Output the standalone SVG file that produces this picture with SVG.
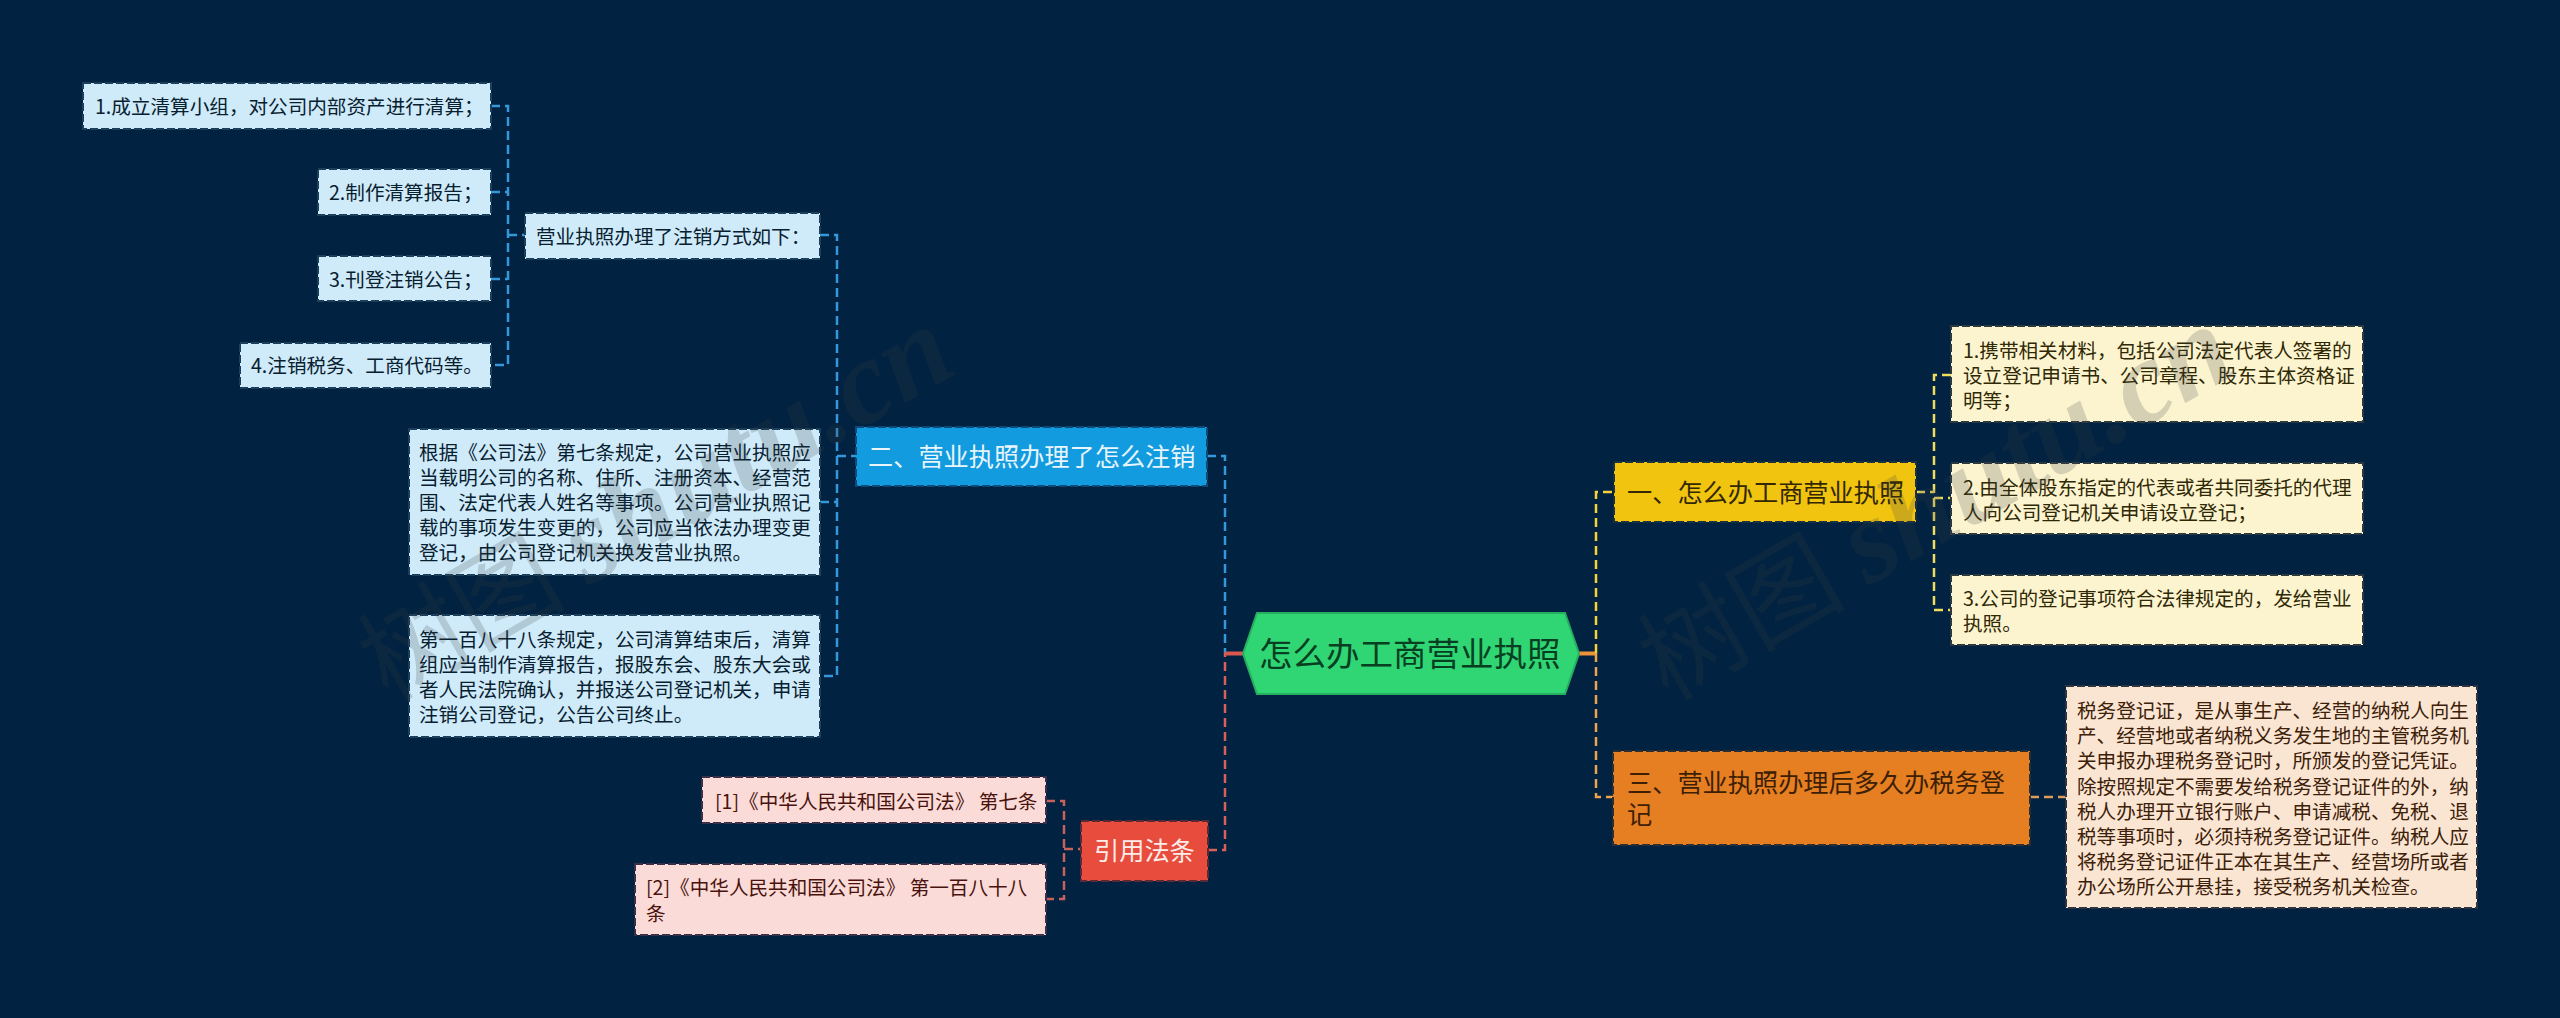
<svg xmlns="http://www.w3.org/2000/svg" width="2560" height="1018" viewBox="0 0 2560 1018">
<style>
text{font-family:"Noto Sans CJK SC","Noto Sans",sans-serif;white-space:pre}
.s{font-size:19.6px}.m{font-size:25.2px}.h{font-size:33.500px;fill:#083f22}
.box{stroke-width:2;stroke-dasharray:8 3}
.lb rect{fill:#cfeaf9;stroke:#1c3f5c}.lb text{fill:#07202f}
.ly rect{fill:#fcf3cf;stroke:#2c3a40}.ly text{fill:#2f2804}
.lr rect{fill:#fadbd8;stroke:#3c2f48}.lr text{fill:#4a120c}
.lo rect{fill:#fae5d3;stroke:#2f3440}.lo text{fill:#3c2008}
.c{fill:none;stroke-width:2.500;stroke-dasharray:9 5}
.solid{fill:none;stroke-width:4}
.wm{fill:#3a4048;fill-opacity:.2}
</style>
<rect width="2560" height="1018" fill="#012240"/>
<g id="connectors">
<path class="c" stroke="#3498db" d="M491 106H508V365H491M491 192H508M491 279H508M508 235H525"/>
<path class="c" stroke="#3498db" d="M820 235H837V676H820M820 502H837M837 456H856"/>
<path class="c" stroke="#3498db" d="M1207 456H1225V653"/>
<path class="c" stroke="#d9605a" d="M1208 850H1225V653"/>
<path class="solid" stroke="#d9584f" d="M1225 653.500H1243"/>
<path class="c" stroke="#c8605c" d="M1046 801H1064V899H1046M1064 849H1081"/>
<path class="solid" stroke="#ee9338" d="M1579 653.500H1596"/>
<path class="c" stroke="#f4d43a" d="M1596 653V492H1614"/>
<path class="c" stroke="#eda44e" d="M1596 653V797H1613"/>
<path class="c" stroke="#f0dc60" d="M1916 492H1934M1951 375H1934V610H1951M1934 498H1951"/>
<path class="c" stroke="#dc9c5c" d="M2030 797H2066"/>
</g>
<g id="root"><path d="M1243 653.500L1257 613H1565L1579 653.500L1565 694H1257Z" fill="#2fd673" stroke="#27ae60" stroke-width="2"/><text class="h" x="1259" y="666">怎么办工商营业执照</text></g>
<g id="n1"><rect class="box" x="1614" y="462" width="302" height="60" fill="#f1c40f" stroke="#1b3040"/><text class="m" x="1627" y="502" fill="#332803">一、怎么办工商营业执照</text></g>
<g id="n1-1" class="ly"><rect class="box" x="1951" y="326" width="412" height="96"/><text class="s" x="1963" y="358">1.携带相关材料，包括公司法定代表人签署的</text><text class="s" x="1963" y="383">设立登记申请书、公司章程、股东主体资格证</text><text class="s" x="1963" y="408">明等；</text></g>
<g id="n1-2" class="ly"><rect class="box" x="1951" y="463" width="412" height="71"/><text class="s" x="1963" y="495">2.由全体股东指定的代表或者共同委托的代理</text><text class="s" x="1963" y="520">人向公司登记机关申请设立登记；</text></g>
<g id="n1-3" class="ly"><rect class="box" x="1951" y="575" width="412" height="70"/><text class="s" x="1963" y="606">3.公司的登记事项符合法律规定的，发给营业</text><text class="s" x="1963" y="631">执照。</text></g>
<g id="n3"><rect class="box" x="1613" y="751" width="417" height="94" fill="#e67e22" stroke="#2a2f35"/><text class="m" x="1627" y="792" fill="#3c1f05">三、营业执照办理后多久办税务登</text><text class="m" x="1627" y="824" fill="#3c1f05">记</text></g>
<g id="n3-1" class="lo"><rect class="box" x="2066" y="686" width="411" height="222"/><text class="s" x="2077" y="718">税务登记证，是从事生产、经营的纳税人向生</text><text class="s" x="2077" y="743">产、经营地或者纳税义务发生地的主管税务机</text><text class="s" x="2077" y="768">关申报办理税务登记时，所颁发的登记凭证。</text><text class="s" x="2077" y="794">除按照规定不需要发给税务登记证件的外，纳</text><text class="s" x="2077" y="819">税人办理开立银行账户、申请减税、免税、退</text><text class="s" x="2077" y="844">税等事项时，必须持税务登记证件。纳税人应</text><text class="s" x="2077" y="869">将税务登记证件正本在其生产、经营场所或者</text><text class="s" x="2077" y="894">办公场所公开悬挂，接受税务机关检查。</text></g>
<g id="n2"><rect class="box" x="856" y="427" width="351" height="59" fill="#129bde" stroke="#0d4a78"/><text class="m" x="868" y="466" fill="#e8f5fc">二、营业执照办理了怎么注销</text></g>
<g id="n2-a" class="lb"><rect class="box" x="525" y="213" width="295" height="46"/><text class="s" x="536" y="244">营业执照办理了注销方式如下：</text></g>
<g id="n2-a1" class="lb"><rect class="box" x="83" y="83" width="408" height="46"/><text class="s" x="95" y="114">1.成立清算小组，对公司内部资产进行清算；</text></g>
<g id="n2-a2" class="lb"><rect class="box" x="318" y="169" width="173" height="46"/><text class="s" x="329" y="200">2.制作清算报告；</text></g>
<g id="n2-a3" class="lb"><rect class="box" x="318" y="256" width="173" height="45"/><text class="s" x="329" y="287">3.刊登注销公告；</text></g>
<g id="n2-a4" class="lb"><rect class="box" x="240" y="343" width="251" height="45"/><text class="s" x="251" y="373">4.注销税务、工商代码等。</text></g>
<g id="n2-b" class="lb"><rect class="box" x="409" y="429" width="411" height="146"/><text class="s" x="419" y="460">根据《公司法》第七条规定，公司营业执照应</text><text class="s" x="419" y="485">当载明公司的名称、住所、注册资本、经营范</text><text class="s" x="419" y="510">围、法定代表人姓名等事项。公司营业执照记</text><text class="s" x="419" y="535">载的事项发生变更的，公司应当依法办理变更</text><text class="s" x="419" y="560">登记，由公司登记机关换发营业执照。</text></g>
<g id="n2-c" class="lb"><rect class="box" x="409" y="615" width="411" height="122"/><text class="s" x="419" y="647">第一百八十八条规定，公司清算结束后，清算</text><text class="s" x="419" y="672">组应当制作清算报告，报股东会、股东大会或</text><text class="s" x="419" y="697">者人民法院确认，并报送公司登记机关，申请</text><text class="s" x="419" y="722">注销公司登记，公告公司终止。</text></g>
<g id="n4"><rect class="box" x="1081" y="821" width="127" height="60" fill="#e74c3c" stroke="#5a2a35"/><text class="m" x="1094" y="860" fill="#fdecea">引用法条</text></g>
<g id="n4-1" class="lr"><rect class="box" x="702" y="777" width="344" height="46"/><text class="s" x="715" y="809">[1]《中华人民共和国公司法》 第七条</text></g>
<g id="n4-2" class="lr"><rect class="box" x="635" y="864" width="411" height="71"/><text class="s" x="646" y="895">[2]《中华人民共和国公司法》 第一百八十八</text><text class="s" x="646" y="921">条</text></g>
<g id="watermarks">
<text class="wm" transform="translate(388 702) rotate(-30)" font-size="104">树图 <tspan font-family="Liberation Serif" font-style="italic" font-weight="700" font-size="120">shutu.cn</tspan></text>
<text class="wm" transform="translate(1668 702) rotate(-30)" font-size="104">树图 <tspan font-family="Liberation Serif" font-style="italic" font-weight="700" font-size="120">shutu.cn</tspan></text>
</g>
</svg>
